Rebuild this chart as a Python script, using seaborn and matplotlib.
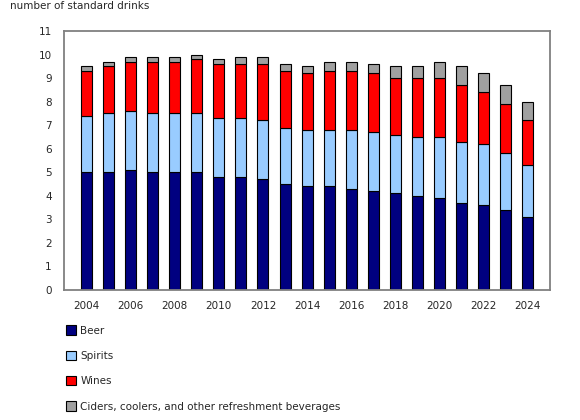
import numpy as np
import pandas as pd
import seaborn as sns
import matplotlib.pyplot as plt

years = list(range(2004, 2025))
beer = [5.0, 5.0, 5.1, 5.0, 5.0, 5.0, 4.8, 4.8, 4.7, 4.5, 4.4, 4.4, 4.3, 4.2, 4.1, 4.0, 3.9, 3.7, 3.6, 3.4, 3.1]
spirits = [2.4, 2.5, 2.5, 2.5, 2.5, 2.5, 2.5, 2.5, 2.5, 2.4, 2.4, 2.4, 2.5, 2.5, 2.5, 2.5, 2.6, 2.6, 2.6, 2.4, 2.2]
wines = [1.9, 2.0, 2.1, 2.2, 2.2, 2.3, 2.3, 2.3, 2.4, 2.4, 2.4, 2.5, 2.5, 2.5, 2.4, 2.5, 2.5, 2.4, 2.2, 2.1, 1.9]
ciders = [0.2, 0.2, 0.2, 0.2, 0.2, 0.2, 0.2, 0.3, 0.3, 0.3, 0.3, 0.4, 0.4, 0.4, 0.5, 0.5, 0.7, 0.8, 0.8, 0.8, 0.8]

series = ["Beer", "Spirits", "Wines", "Ciders, coolers, and other refreshment beverages"]
colors = ["#000080", "#99ccff", "#ff0000", "#a0a0a0"]

df = pd.DataFrame({"year": [str(y) for y in years], "Beer": beer, "Spirits": spirits,
                   "Wines": wines, series[3]: ciders})

sns.set_style("white")
plt.rcParams["font.family"] = ["DejaVu Sans"]
plt.rcParams["font.size"] = 7.5

fig = plt.figure(figsize=(5.8, 4.2), dpi=100)
ax = fig.add_axes([0.111, 0.310, 0.837, 0.616])

# stacked bars, one layer per beverage
bottom = np.zeros(len(years))
for name, col in zip(series, colors):
    sns.barplot(data=df, x="year", y=name, color=col, bottom=bottom, width=0.5,
                edgecolor="black", linewidth=0.8, label=name, ax=ax, saturation=1)
    bottom = bottom + df[name].to_numpy()

ax.set_ylim(0, 11)
ax.set_yticks(range(0, 12))
ax.set_xlim(-1.0, len(years))
ax.set_xticks(range(0, len(years), 2))
ax.set_xticklabels([str(y) for y in years[::2]])
ax.set_xlabel("")
ax.set_ylabel("")
ax.tick_params(axis="y", direction="in", length=3, color="#808080", pad=9)
ax.tick_params(axis="x", length=0, pad=8)
for s in ax.spines.values():
    s.set_color("#808080")
    s.set_linewidth(1.3)

fig.text(0.018, 0.985, "number of standard drinks", ha="left", va="center")

handles, labels = ax.get_legend_handles_labels()
if ax.legend_:
    ax.legend_.remove()
fig.legend(handles, labels, loc="upper left", bbox_to_anchor=(0.106, 0.235),
           frameon=False, labelspacing=1.45, handlelength=1.0, handleheight=1.0,
           handletextpad=0.4, borderaxespad=0)

fig.savefig("out.png", dpi=100)
